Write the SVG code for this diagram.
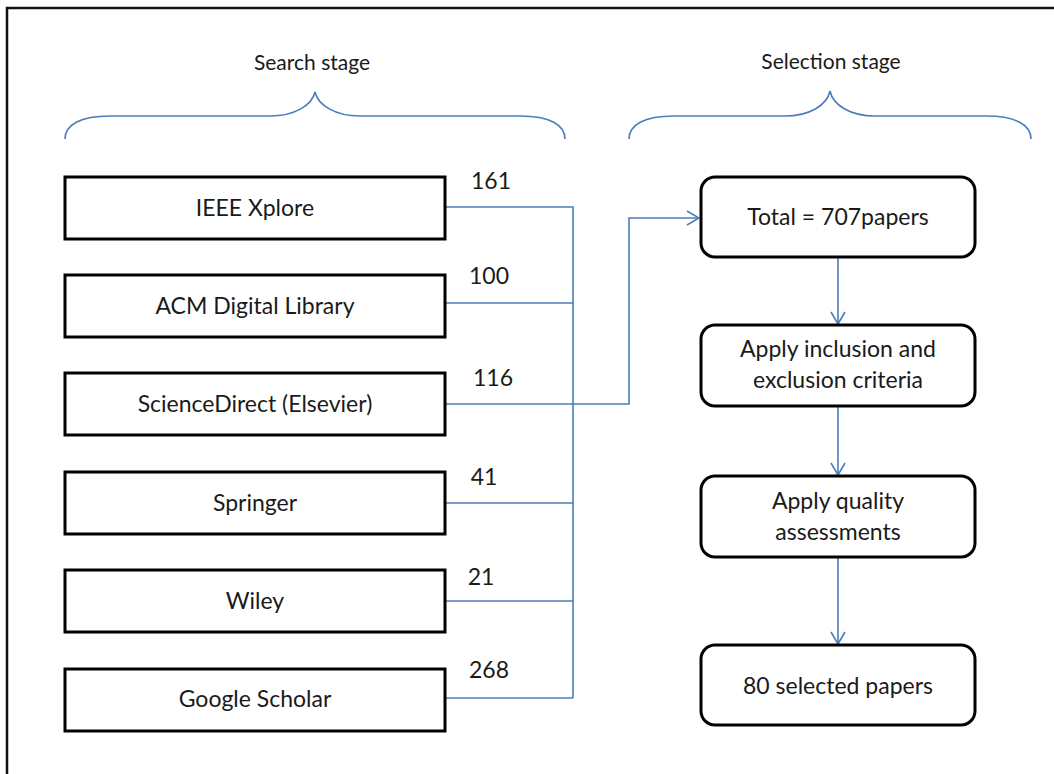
<svg xmlns="http://www.w3.org/2000/svg" width="1054" height="774" viewBox="0 0 1054 774">
<defs>
<style>
.t{font-family:Lato,"Liberation Sans",sans-serif;font-size:23px;fill:#1a1a1a;text-anchor:middle}
.h{font-family:Lato,"Liberation Sans",sans-serif;font-size:21px;fill:#1a1a1a;text-anchor:middle}
.box{fill:#fff;stroke:#000;stroke-width:3}
.ln{fill:none;stroke:#4a7ebb;stroke-width:1.6}
</style>
<marker id="ar" viewBox="0 0 14 16" refX="13" refY="8" markerWidth="14" markerHeight="16" markerUnits="userSpaceOnUse" orient="auto">
<path d="M1,1 L13,8 L1,15" fill="none" stroke="#4a7ebb" stroke-width="1.6"/>
</marker>
</defs>
<rect width="1054" height="774" fill="#fff"/>
<path d="M7,774 L7,8 L1054,8" fill="none" stroke="#111" stroke-width="2.5"/>
<g id="search-stage">
<text class="h" x="312" y="70">Search stage</text>
<path class="ln" d="M65,139 C65,125 80,116 110,116 L270,116 C295,116 312,105 315,92 C318,105 335,116 360,116 L520,116 C550,116 565,125 565,139"/>
</g>
<g id="selection-stage">
<text class="h" x="831" y="69">Selection stage</text>
<path class="ln" d="M629,139 C629,125 644,116 674,116 L785,116 C810,116 827,105 830,91 C833,105 850,116 875,116 L986,116 C1016,116 1031,125 1031,139"/>
</g>
<g id="connectors">
<path class="ln" d="M445,207 L573,207 L573,698"/>
<path class="ln" d="M445,303 L573,303"/>
<path class="ln" d="M445,404 L629,404 L629,218 L699,218" marker-end="url(#ar)"/>
<path class="ln" d="M445,503 L573,503"/>
<path class="ln" d="M445,601 L573,601"/>
<path class="ln" d="M445,698 L573,698"/>
<path class="ln" d="M838,257 L838,324" marker-end="url(#ar)"/>
<path class="ln" d="M838,406 L838,475" marker-end="url(#ar)"/>
<path class="ln" d="M838,557 L838,644" marker-end="url(#ar)"/>
<text class="t" x="491" y="189">161</text>
<text class="t" x="489" y="284">100</text>
<text class="t" x="493" y="386">116</text>
<text class="t" x="484" y="485">41</text>
<text class="t" x="481" y="585">21</text>
<text class="t" x="489" y="678">268</text>
</g>
<g id="ieee"><rect class="box" x="65" y="177" width="380" height="62"/><text class="t" x="255" y="216">IEEE Xplore</text></g>
<g id="acm"><rect class="box" x="65" y="275" width="380" height="62"/><text class="t" x="255" y="314">ACM Digital Library</text></g>
<g id="sciencedirect"><rect class="box" x="65" y="373" width="380" height="62"/><text class="t" x="255" y="412">ScienceDirect (Elsevier)</text></g>
<g id="springer"><rect class="box" x="65" y="472" width="380" height="62"/><text class="t" x="255" y="511">Springer</text></g>
<g id="wiley"><rect class="box" x="65" y="570" width="380" height="62"/><text class="t" x="255" y="609">Wiley</text></g>
<g id="google"><rect class="box" x="65" y="669" width="380" height="62"/><text class="t" x="255" y="707">Google Scholar</text></g>
<g id="total"><rect class="box" x="701" y="177" width="274" height="80" rx="14"/><text class="t" x="838" y="225">Total = 707papers</text></g>
<g id="inclusion"><rect class="box" x="701" y="325" width="274" height="81" rx="14"/><text class="t" x="838" y="357">Apply inclusion and</text><text class="t" x="838" y="388">exclusion criteria</text></g>
<g id="quality"><rect class="box" x="701" y="476" width="274" height="81" rx="14"/><text class="t" x="838" y="509">Apply quality</text><text class="t" x="838" y="540">assessments</text></g>
<g id="selected"><rect class="box" x="701" y="645" width="274" height="80" rx="14"/><text class="t" x="838" y="694">80 selected papers</text></g>
</svg>
